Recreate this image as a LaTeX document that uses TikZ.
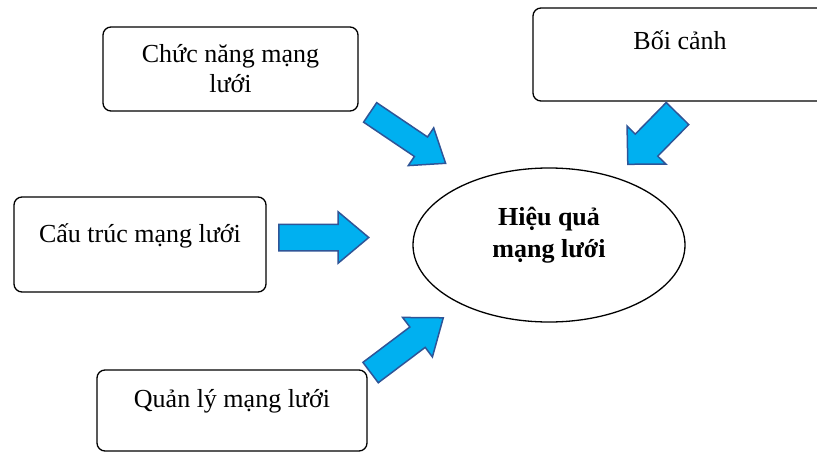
\documentclass[tikz,border=0pt]{standalone}
\usepackage{fontspec}
\setmainfont{Liberation Serif}
\usepackage{xcolor}
\usetikzlibrary{shapes.geometric, shapes.arrows}

\definecolor{arrowfill}{HTML}{00B0F0}
\definecolor{arrowline}{HTML}{2F5597}

\begin{document}
\begin{tikzpicture}[x=1pt,y=-1pt,
        box/.style={draw, rounded corners=8pt, line width=1.3pt, inner sep=0pt, align=center,
                    font=\fontsize{26}{30}\selectfont},
        blockarrow/.style={single arrow, draw=arrowline, fill=arrowfill, line width=1.5pt,
                    inner xsep=0pt, minimum width=0pt, single arrow head indent=0pt, anchor=tail}]
        \useasboundingbox (0,0) rectangle (817,452);
        \clip (0,0) rectangle (817,452);

        \node[ellipse, draw, line width=1.3pt, minimum width=272pt, minimum height=154pt, inner sep=0pt,
              font=\bfseries\fontsize{26}{32}\selectfont, text height=24pt, text depth=64pt]
              (hq) at (549,245) {\begin{tabular}[t]{@{}c@{}}Hiệu quả\\mạng lưới\end{tabular}};

        \node[box, minimum width=255pt, minimum height=84pt]                       (cn) at (230.5,69)    {Chức năng mạng\\lưới};
        \node[box, minimum width=294pt, text height=42pt, text depth=51pt]         (bc) at (680,54.5)    {Bối cảnh};
        \node[box, minimum width=252pt, text height=45pt, text depth=50pt]         (ct) at (140,244.5)   {Cấu trúc mạng lưới};
        \node[box, minimum width=270pt, text height=37pt, text depth=44pt]         (ql) at (232,410.5)   {Quản lý mạng lưới};

        \node[blockarrow, rotate=-34,    minimum height=91pt, inner ysep=11pt,   single arrow head extend=11pt,   single arrow tip angle=75] (cn-hq) at (369.5,112) {};
        \node[blockarrow, rotate=-134.4, minimum height=71pt, inner ysep=15pt,   single arrow head extend=11.5pt, single arrow tip angle=91] (bc-hq) at (678,113)   {};
        \node[blockarrow, rotate=0,      minimum height=90pt, inner ysep=12.5pt, single arrow head extend=12.5pt, single arrow tip angle=80] (ct-hq) at (278,237.5) {};
        \node[blockarrow, rotate=37,     minimum height=91pt, inner ysep=12pt,   single arrow head extend=12pt,   single arrow tip angle=75] (ql-hq) at (370,373)   {};
\end{tikzpicture}
\end{document}
